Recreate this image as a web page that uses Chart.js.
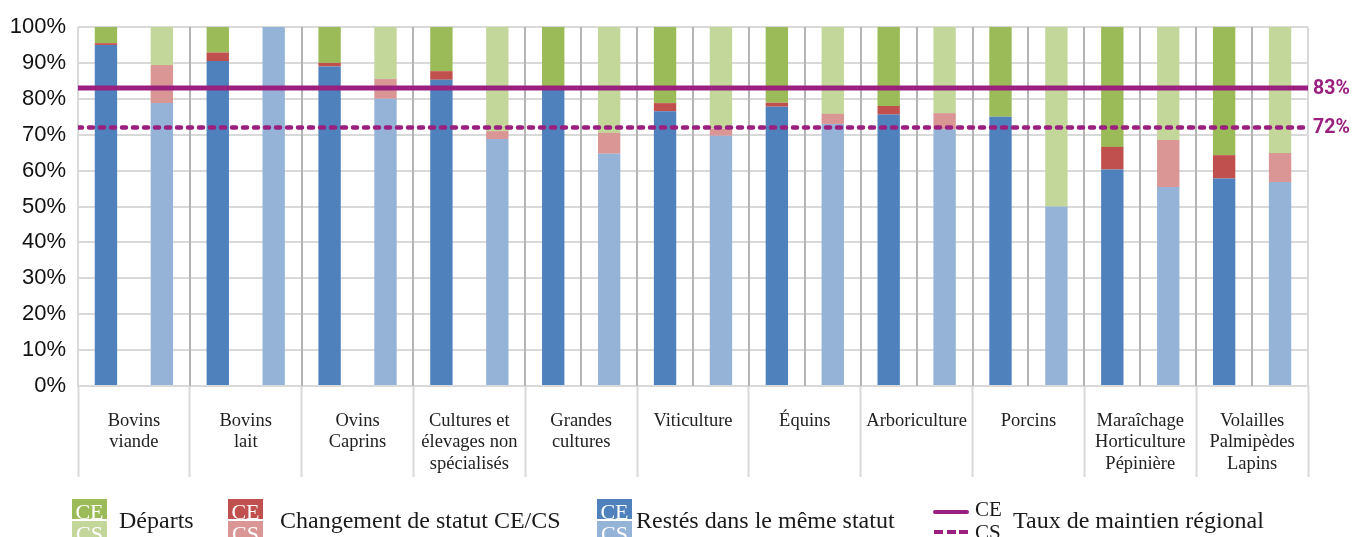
<!DOCTYPE html>
<html lang="fr">
<head>
<meta charset="utf-8">
<title>Maintien des exploitants par filière</title>
<script src="https://cdn.jsdelivr.net/npm/chart.js@4.4.1/dist/chart.umd.min.js"></script>
<style>
  html, body { margin: 0; padding: 0; background: #fff; overflow: hidden; }
  #wrap { position: relative; width: 1367px; height: 537px; overflow: hidden; }
  #chart { position: absolute; left: 0; top: 0; }
  .sw { position: absolute; width: 35px; height: 20px; line-height: 20px; text-align: center;
        color: #fff; font: 22px "Liberation Serif", serif; }
  .txt { position: absolute; font: 24px "Liberation Serif", serif; color: #1a1a1a;
         line-height: 26px; white-space: nowrap; }
  .small { position: absolute; font: 21px "Liberation Serif", serif; color: #1a1a1a; line-height: 20px; }
  .ln { position: absolute; width: 36px; height: 4px; border-radius: 2px; }
</style>
</head>
<body>
<div id="wrap">
  <canvas id="chart" width="1367" height="537"></canvas>

  <span class="sw" style="left:72px;top:499px;background:#9BBB59">CE</span>
  <span class="sw" style="left:72px;top:521px;background:#C4D79B">CS</span>
  <span class="txt" style="left:119px;top:507px">Départs</span>

  <span class="sw" style="left:228px;top:499px;background:#C0504D">CE</span>
  <span class="sw" style="left:228px;top:521px;background:#D99694">CS</span>
  <span class="txt" style="left:280px;top:507px">Changement de statut CE/CS</span>

  <span class="sw" style="left:597px;top:499px;background:#4F81BD">CE</span>
  <span class="sw" style="left:597px;top:521px;background:#95B3D7">CS</span>
  <span class="txt" style="left:636px;top:507px">Restés dans le même statut</span>

  <div class="ln" style="left:933px;top:510px;background:#9A1F7F"></div>
  <div class="ln" style="left:934px;top:530px;border-radius:0;background:repeating-linear-gradient(90deg,#9A1F7F 0 9px,transparent 9px 12.5px)"></div>
  <span class="small" style="left:975px;top:499px">CE</span>
  <span class="small" style="left:975px;top:522px">CS</span>
  <span class="txt" style="left:1013px;top:507px">Taux de maintien régional</span>
</div>
<script>
// filières (libellés sur plusieurs lignes)
const categories = [
  ['Bovins', 'viande'], ['Bovins', 'lait'], ['Ovins', 'Caprins'],
  ['Cultures et', 'élevages non', 'spécialisés'], ['Grandes', 'cultures'],
  'Viticulture', 'Équins', 'Arboriculture', 'Porcins',
  ['Maraîchage', 'Horticulture', 'Pépinière'], ['Volailles', 'Palmipèdes', 'Lapins']
];

// parts en % — chefs d'exploitation (CE)
const restesCE   = [95.0, 90.5, 89.0, 85.3, 83.5, 76.5, 77.8, 75.6, 75.0, 60.3, 57.8];
const changeCE   = [0.5, 2.4, 1.0, 2.4, 0.0, 2.3, 1.1, 2.4, 0.0, 6.3, 6.5];
const departsCE  = [4.5, 7.1, 10.0, 12.3, 16.5, 21.2, 21.1, 22.0, 25.0, 33.4, 35.7];

// parts en % — cotisants de solidarité (CS)
const restesCS   = [78.8, 100.0, 80.0, 68.8, 64.7, 69.7, 73.0, 71.5, 50.0, 55.4, 56.8];
const changeCS   = [10.6, 0.0, 5.5, 2.2, 5.8, 2.0, 2.8, 4.5, 0.0, 13.1, 8.1];
const departsCS  = [10.6, 0.0, 14.5, 29.0, 29.5, 28.3, 24.2, 24.0, 50.0, 31.5, 35.1];

// taux de maintien régional
const tauxCE = 83;
const tauxCS = 72;

const yTicks = [0, 10, 20, 30, 40, 50, 60, 70, 80, 90, 100];

const PURPLE = '#9A1F7F';

// deux emplacements par filière sur l'axe x : 2i pour CE, 2i+1 pour CS
const nSlots = categories.length * 2;
const inSlot = (values, side) =>
  values.map((v, i) => ({ x: 2 * i + (side === 'CE' ? 0 : 1), y: v }));

function bar(label, values, side, color) {
  return {
    type: 'bar', label, data: inSlot(values, side),
    backgroundColor: color, borderWidth: 0,
    barPercentage: 0.4, categoryPercentage: 1.0,
    xAxisID: 'x', yAxisID: 'y'
  };
}

// ligne horizontale sur toute la largeur du graphique
function taux(label, value, dash, width) {
  return {
    type: 'line', label, order: -1,
    data: [{ x: -0.5, y: value }, { x: nSlots - 0.5, y: value }],
    borderColor: PURPLE, borderWidth: width, borderDash: dash,
    borderCapStyle: dash.length ? 'round' : 'butt',
    pointRadius: 0, xAxisID: 'x', yAxisID: 'yl'
  };
}

// étiquettes des taux au bout des lignes
const tauxLabels = {
  id: 'tauxLabels',
  afterDatasetsDraw(chart) {
    const { ctx, chartArea, scales } = chart;
    ctx.save();
    ctx.fillStyle = PURPLE;
    ctx.font = 'bold 19.5px Roboto, sans-serif';
    ctx.textBaseline = 'middle';
    [tauxCE, tauxCS].forEach(v => {
      ctx.fillText(v + '%', chartArea.right + 5, scales.yl.getPixelForValue(v) + 1);
    });
    ctx.restore();
  }
};

// traits verticaux : bord de chaque filière, et séparation CE/CS à partir de « Grandes cultures »
function slotLine(k) {
  if (k === 0 || k === nSlots) return '#D9D9D9';
  if (k % 2 === 0) return '#B4B4B4';
  return (k - 1) / 2 >= 4 ? '#B4B4B4' : null;
}

const slotLines = {
  id: 'slotLines',
  beforeDatasetsDraw(chart) {
    const { ctx, chartArea, scales } = chart;
    ctx.save();
    ctx.lineWidth = 2;
    for (let k = 0; k <= nSlots; k++) {
      const color = slotLine(k);
      if (!color) continue;
      const px = Math.round(scales.x.getPixelForValue(k - 0.5));
      ctx.strokeStyle = color;
      ctx.beginPath();
      ctx.moveTo(px, chartArea.top);
      ctx.lineTo(px, chartArea.bottom);
      ctx.stroke();
    }
    ctx.restore();
  }
};

new Chart(document.getElementById('chart'), {
  data: {
    datasets: [
      taux('Taux CE', tauxCE, [], 5),
      taux('Taux CS', tauxCS, [4, 7], 4.5),
      bar('Restés CE', restesCE, 'CE', '#4F81BD'),
      bar('Changement CE', changeCE, 'CE', '#C0504D'),
      bar('Départs CE', departsCE, 'CE', '#9BBB59'),
      bar('Restés CS', restesCS, 'CS', '#95B3D7'),
      bar('Changement CS', changeCS, 'CS', '#D99694'),
      bar('Départs CS', departsCS, 'CS', '#C4D79B')
    ]
  },
  options: {
    responsive: false,
    animation: false,
    layout: { padding: { left: 0, right: 59, top: 27, bottom: 60 } },
    plugins: { legend: { display: false }, tooltip: { enabled: false } },
    scales: {
      x: {
        type: 'linear', stacked: true, offset: false, min: -0.5, max: nSlots - 0.5,
        grid: { display: false, drawTicks: false },
        border: { color: '#D9D9D9', width: 2 },
        ticks: { display: false },
        afterFit(s) { s.height = 0; }
      },
      xc: {
        type: 'category', position: 'bottom', labels: categories, offset: true,
        grid: { offset: true, drawOnChartArea: false, tickLength: 91, tickColor: '#D9D9D9', tickWidth: 2 },
        border: { display: false },
        ticks: {
          autoSkip: false, maxRotation: 0, minRotation: 0, padding: -67,
          color: '#222',
          font: { family: '"Liberation Serif", serif', size: 18.5, lineHeight: 1.16 }
        },
        afterFit(s) { s.height = 91; }
      },
      yl: { type: 'linear', display: false, min: 0, max: 100 },
      y: {
        stacked: true, min: 0, max: 100,
        afterBuildTicks(s) { s.ticks = yTicks.map(v => ({ value: v })); },
        grid: { color: '#D9D9D9', lineWidth: 2, drawTicks: false },
        border: { display: false },
        ticks: {
          padding: 12, color: '#111',
          font: { family: '"Liberation Sans", Arial, sans-serif', size: 22 },
          callback: v => v + '%'
        },
        afterFit(s) { s.width = 78; }
      }
    }
  },
  plugins: [slotLines, tauxLabels]
});
</script>
</body>
</html>
